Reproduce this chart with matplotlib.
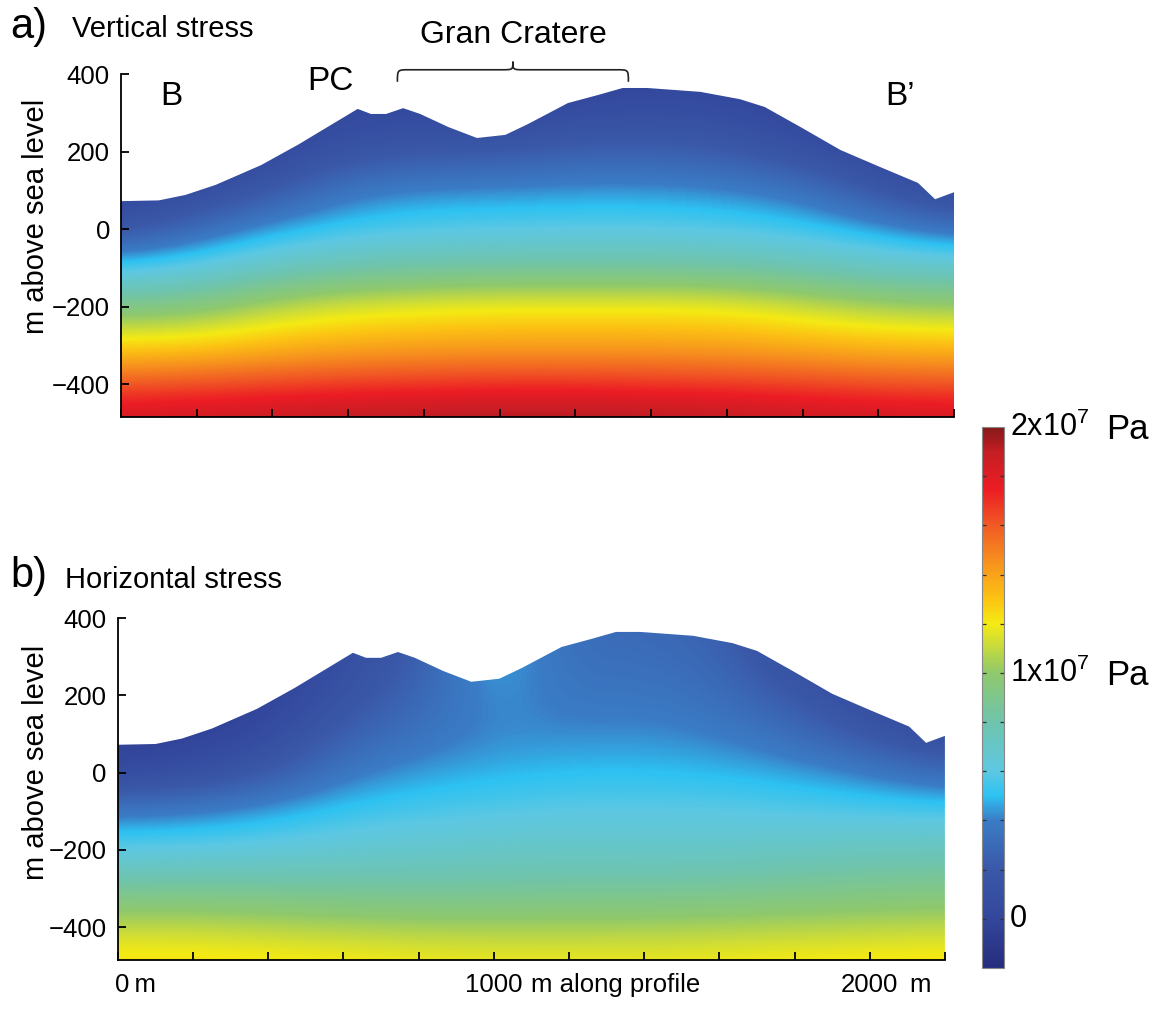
import numpy as np
import matplotlib
matplotlib.use('Agg')
import matplotlib.pyplot as plt
from matplotlib.colors import LinearSegmentedColormap, Normalize
from matplotlib.patches import Polygon, PathPatch
from matplotlib.path import Path
import matplotlib.transforms as mtrans

plt.rcParams['font.family'] = ['Liberation Sans', 'DejaVu Sans']
plt.rcParams['mathtext.fontset'] = 'custom'
plt.rcParams['mathtext.rm'] = 'Liberation Sans'
plt.rcParams['mathtext.it'] = 'Liberation Sans:italic'

# ---------------- data ----------------
# topographic profile B-B' (m along profile, m above sea level)
topo_x = [0, 100, 170, 250, 370, 470, 550, 625, 660, 700, 745, 790, 865, 940,
          1015, 1075, 1180, 1260, 1325, 1390, 1530, 1635, 1700, 1795, 1900,
          2005, 2105, 2150, 2200]
topo_z = [72, 74, 88, 114, 165, 219, 266, 310, 297, 297, 312, 297, 263, 235,
          243, 271, 325, 346, 364, 364, 354, 335, 315, 263, 204,
          160, 119, 77, 95]

# coarse grid of stress values (units of 1e7 Pa)
grid_x = [0, 200, 400, 600, 800, 1000, 1200, 1400, 1600, 1800, 2000, 2200]
grid_z = [-500, -400, -300, -200, -100, 0, 100, 200, 300, 400]

vertical_stress = [
    [1.88, 1.90, 1.93, 1.96, 1.98, 2.00, 2.00, 1.98, 1.95, 1.92, 1.90, 1.88],
    [1.62, 1.64, 1.66, 1.68, 1.69, 1.70, 1.70, 1.69, 1.68, 1.66, 1.63, 1.62],
    [1.25, 1.27, 1.33, 1.37, 1.39, 1.40, 1.40, 1.40, 1.39, 1.36, 1.33, 1.32],
    [0.92, 0.95, 1.08, 1.15, 1.18, 1.20, 1.20, 1.20, 1.19, 1.12, 1.05, 1.02],
    [0.55, 0.62, 0.73, 0.80, 0.83, 0.84, 0.84, 0.84, 0.83, 0.78, 0.72, 0.70],
    [0.15, 0.30, 0.46, 0.53, 0.57, 0.58, 0.59, 0.59, 0.57, 0.53, 0.45, 0.33],
    [0.00, 0.07, 0.20, 0.38, 0.42, 0.43, 0.44, 0.44, 0.42, 0.36, 0.18, 0.04],
    [-0.08, -0.05, 0.04, 0.15, 0.20, 0.20, 0.25, 0.25, 0.22, 0.12, 0.02, -0.04],
    [-0.15, -0.13, -0.03, 0.04, 0.05, 0.02, 0.08, 0.10, 0.08, 0.00, -0.08, -0.12],
    [-0.20, -0.20, -0.12, -0.05, -0.05, -0.08, -0.05, -0.02, -0.03, -0.10, -0.15, -0.20],
]

horizontal_stress = [
    [1.26, 1.26, 1.25, 1.24, 1.22, 1.21, 1.21, 1.21, 1.22, 1.24, 1.25, 1.26],
    [1.10, 1.10, 1.08, 1.06, 1.05, 1.05, 1.05, 1.05, 1.06, 1.07, 1.08, 1.09],
    [0.86, 0.87, 0.86, 0.85, 0.84, 0.84, 0.85, 0.85, 0.86, 0.88, 0.90, 0.91],
    [0.60, 0.61, 0.63, 0.66, 0.68, 0.70, 0.71, 0.70, 0.70, 0.72, 0.74, 0.75],
    [0.38, 0.40, 0.46, 0.53, 0.56, 0.58, 0.60, 0.60, 0.60, 0.58, 0.57, 0.56],
    [0.05, 0.09, 0.20, 0.38, 0.45, 0.48, 0.50, 0.50, 0.49, 0.46, 0.40, 0.30],
    [-0.07, -0.04, 0.05, 0.25, 0.35, 0.42, 0.42, 0.43, 0.40, 0.32, 0.18, 0.05],
    [-0.15, -0.12, -0.03, 0.15, 0.28, 0.46, 0.36, 0.37, 0.33, 0.20, 0.06, 0.00],
    [-0.25, -0.20, -0.10, 0.10, 0.22, 0.52, 0.32, 0.33, 0.28, 0.10, 0.00, -0.05],
    [-0.30, -0.25, -0.15, 0.05, 0.20, 0.50, 0.30, 0.30, 0.25, 0.05, -0.05, -0.10],
]

# colour scale (units of 1e7 Pa)
cmap_values = [-0.2, 0.0, 0.2, 0.4, 0.5, 0.6, 0.8, 1.0, 1.1, 1.2, 1.3, 1.45, 1.6, 1.75, 1.9, 2.0]
cmap_colors = ['#262c7c', '#33479c', '#3a58a8', '#3b7cc6', '#2dc2f2', '#5ec8e2',
               '#6fc4ad', '#8fc96c', '#c3d940', '#f4ea14', '#fcc413', '#f7921e',
               '#f15a24', '#ec1c24', '#c41e24', '#851818']
vmin, vmax = -0.2, 2.0
cbar_ticks = [0, 0.2, 0.4, 0.6, 0.8, 1.0, 1.2, 1.4, 1.6, 1.8]

x_ticks = [0, 200, 400, 600, 800, 1000, 1200, 1400, 1600, 1800, 2000, 2200]
y_ticks = [-400, -200, 0, 200, 400]
brace_span = [730, 1340]

# ---------------- figure ----------------
W, H = 1168, 1010
fig = plt.figure(figsize=(W / 100, H / 100), dpi=100)

pos = [(0.1036, 0.5871, 0.7132, 0.3396), (0.1010, 0.0495, 0.7080, 0.3386)]
fields = [vertical_stress, horizontal_stress]

nodes = [(v - vmin) / (vmax - vmin) for v in cmap_values]
cmap = LinearSegmentedColormap.from_list('stress', list(zip(nodes, cmap_colors)), N=512)
norm = Normalize(vmin=vmin, vmax=vmax)

dx = grid_x[1] - grid_x[0]
dz = grid_z[1] - grid_z[0]
extent = (grid_x[0] - dx / 2, grid_x[-1] + dx / 2, grid_z[0] - dz / 2, grid_z[-1] + dz / 2)

FS = 18.5
axes = []
for p, field in zip(pos, fields):
    ax = fig.add_axes(p)
    axes.append(ax)
    im = ax.imshow(np.array(field), origin='lower', extent=extent, aspect='auto',
                   cmap=cmap, norm=norm, interpolation='bicubic',
                   interpolation_stage='data')
    verts = list(zip(topo_x, topo_z)) + [(topo_x[-1], grid_z[0] - 60), (topo_x[0], grid_z[0] - 60)]
    poly = Polygon(verts, closed=True, facecolor='none', edgecolor='none', transform=ax.transData)
    ax.add_patch(poly)
    im.set_clip_path(poly)
    ax.set_xlim(0, 2200)
    ax.set_ylim(-485, 400)
    for s in ['top', 'right']:
        ax.spines[s].set_visible(False)
    for s in ['left', 'bottom']:
        ax.spines[s].set_linewidth(1.3)
    ax.set_xticks(x_ticks)
    ax.set_xticklabels([])
    ax.set_yticks(y_ticks)
    ax.set_yticklabels([str(v).replace('-', '\u2212') for v in y_ticks])
    ax.tick_params(direction='in', length=6, width=1.3, labelsize=FS, pad=8)
    ax.set_facecolor('none')

axa, axb = axes

# y labels
fig.text(36 / W, 1 - 216 / H, 'm above sea level', rotation=90, ha='center', va='center', fontsize=21)
fig.text(36 / W, 1 - 762 / H, 'm above sea level', rotation=90, ha='center', va='center', fontsize=21)

# panel titles
fig.text(10 / W, 1 - 27 / H, 'a)', fontsize=30, ha='left', va='center')
fig.text(72 / W, 1 - 29 / H, 'Vertical stress', fontsize=21, ha='left', va='center')
fig.text(10 / W, 1 - 576 / H, 'b)', fontsize=30, ha='left', va='center')
fig.text(65 / W, 1 - 580 / H, 'Horizontal stress', fontsize=21, ha='left', va='center')

# profile annotations in panel a
axa.text(132, 341, 'B', fontsize=24, ha='center', va='center')
axa.text(552, 381, 'PC', fontsize=24, ha='center', va='center')
axa.text(2058, 341, 'B\u2019', fontsize=24, ha='center', va='center')
axa.text(sum(brace_span) / 2, 500, 'Gran Cratere', fontsize=23, ha='center', va='center', clip_on=False)

# curly brace
x0, x1 = brace_span
xm = (x0 + x1) / 2
ye, ymid, ytip = 380, 411, 432
r = 30
verts = [(x0, ye), (x0, ymid), (x0, ymid), (x0 + r, ymid),
         (xm - r, ymid), (xm, ymid), (xm, ymid), (xm, ytip),
         (xm, ymid), (xm, ymid), (xm + r, ymid),
         (x1 - r, ymid), (x1, ymid), (x1, ymid), (x1, ye)]
codes = [Path.MOVETO, Path.CURVE4, Path.CURVE4, Path.CURVE4,
         Path.LINETO, Path.CURVE4, Path.CURVE4, Path.CURVE4,
         Path.CURVE4, Path.CURVE4, Path.CURVE4,
         Path.LINETO, Path.CURVE4, Path.CURVE4, Path.CURVE4]
brace = PathPatch(Path(verts, codes), facecolor='none', edgecolor='#222222', lw=1.2, clip_on=False)
axa.add_patch(brace)

# x axis labels in panel b
tb = mtrans.blended_transform_factory(axb.transData, fig.transFigure)
ylab = 1 - 985 / H
XFS = 18.5
axb.text(-8, ylab, '0\u2009m', transform=tb, fontsize=XFS, ha='left', va='center')
axb.text(1000, ylab, '1000', transform=tb, fontsize=XFS, ha='center', va='center')
axb.text(1100, ylab, 'm along profile', transform=tb, fontsize=XFS, ha='left', va='center')
axb.text(2000, ylab, '2000', transform=tb, fontsize=XFS, ha='center', va='center')
axb.text(2106, ylab, 'm', transform=tb, fontsize=XFS, ha='left', va='center')

# colorbar
cax = fig.add_axes([982 / W, 1 - 968 / H, 22 / W, 541 / H])
sm = plt.cm.ScalarMappable(norm=norm, cmap=cmap)
cb = fig.colorbar(sm, cax=cax, ticks=cbar_ticks)
cb.outline.set_edgecolor('#888888')
cb.outline.set_linewidth(0.8)
cax.tick_params(axis='y', direction='in', length=3, width=0.9, color='#333333',
                left=True, right=True, labelleft=False, labelright=False)
tc = mtrans.blended_transform_factory(fig.transFigure, cax.transData)
fig.text(1010 / W, 2.0, '2x10$^7$', transform=tc, fontsize=22, ha='left', va='center')
fig.text(1106 / W, 1.99, 'Pa', transform=tc, fontsize=25, ha='left', va='center')
fig.text(1010 / W, 1.0, '1x10$^7$', transform=tc, fontsize=22, ha='left', va='center')
fig.text(1106 / W, 0.99, 'Pa', transform=tc, fontsize=25, ha='left', va='center')
fig.text(1010 / W, 0.0, '0', transform=tc, fontsize=22, ha='left', va='center')

fig.savefig('out.png', dpi=100)
